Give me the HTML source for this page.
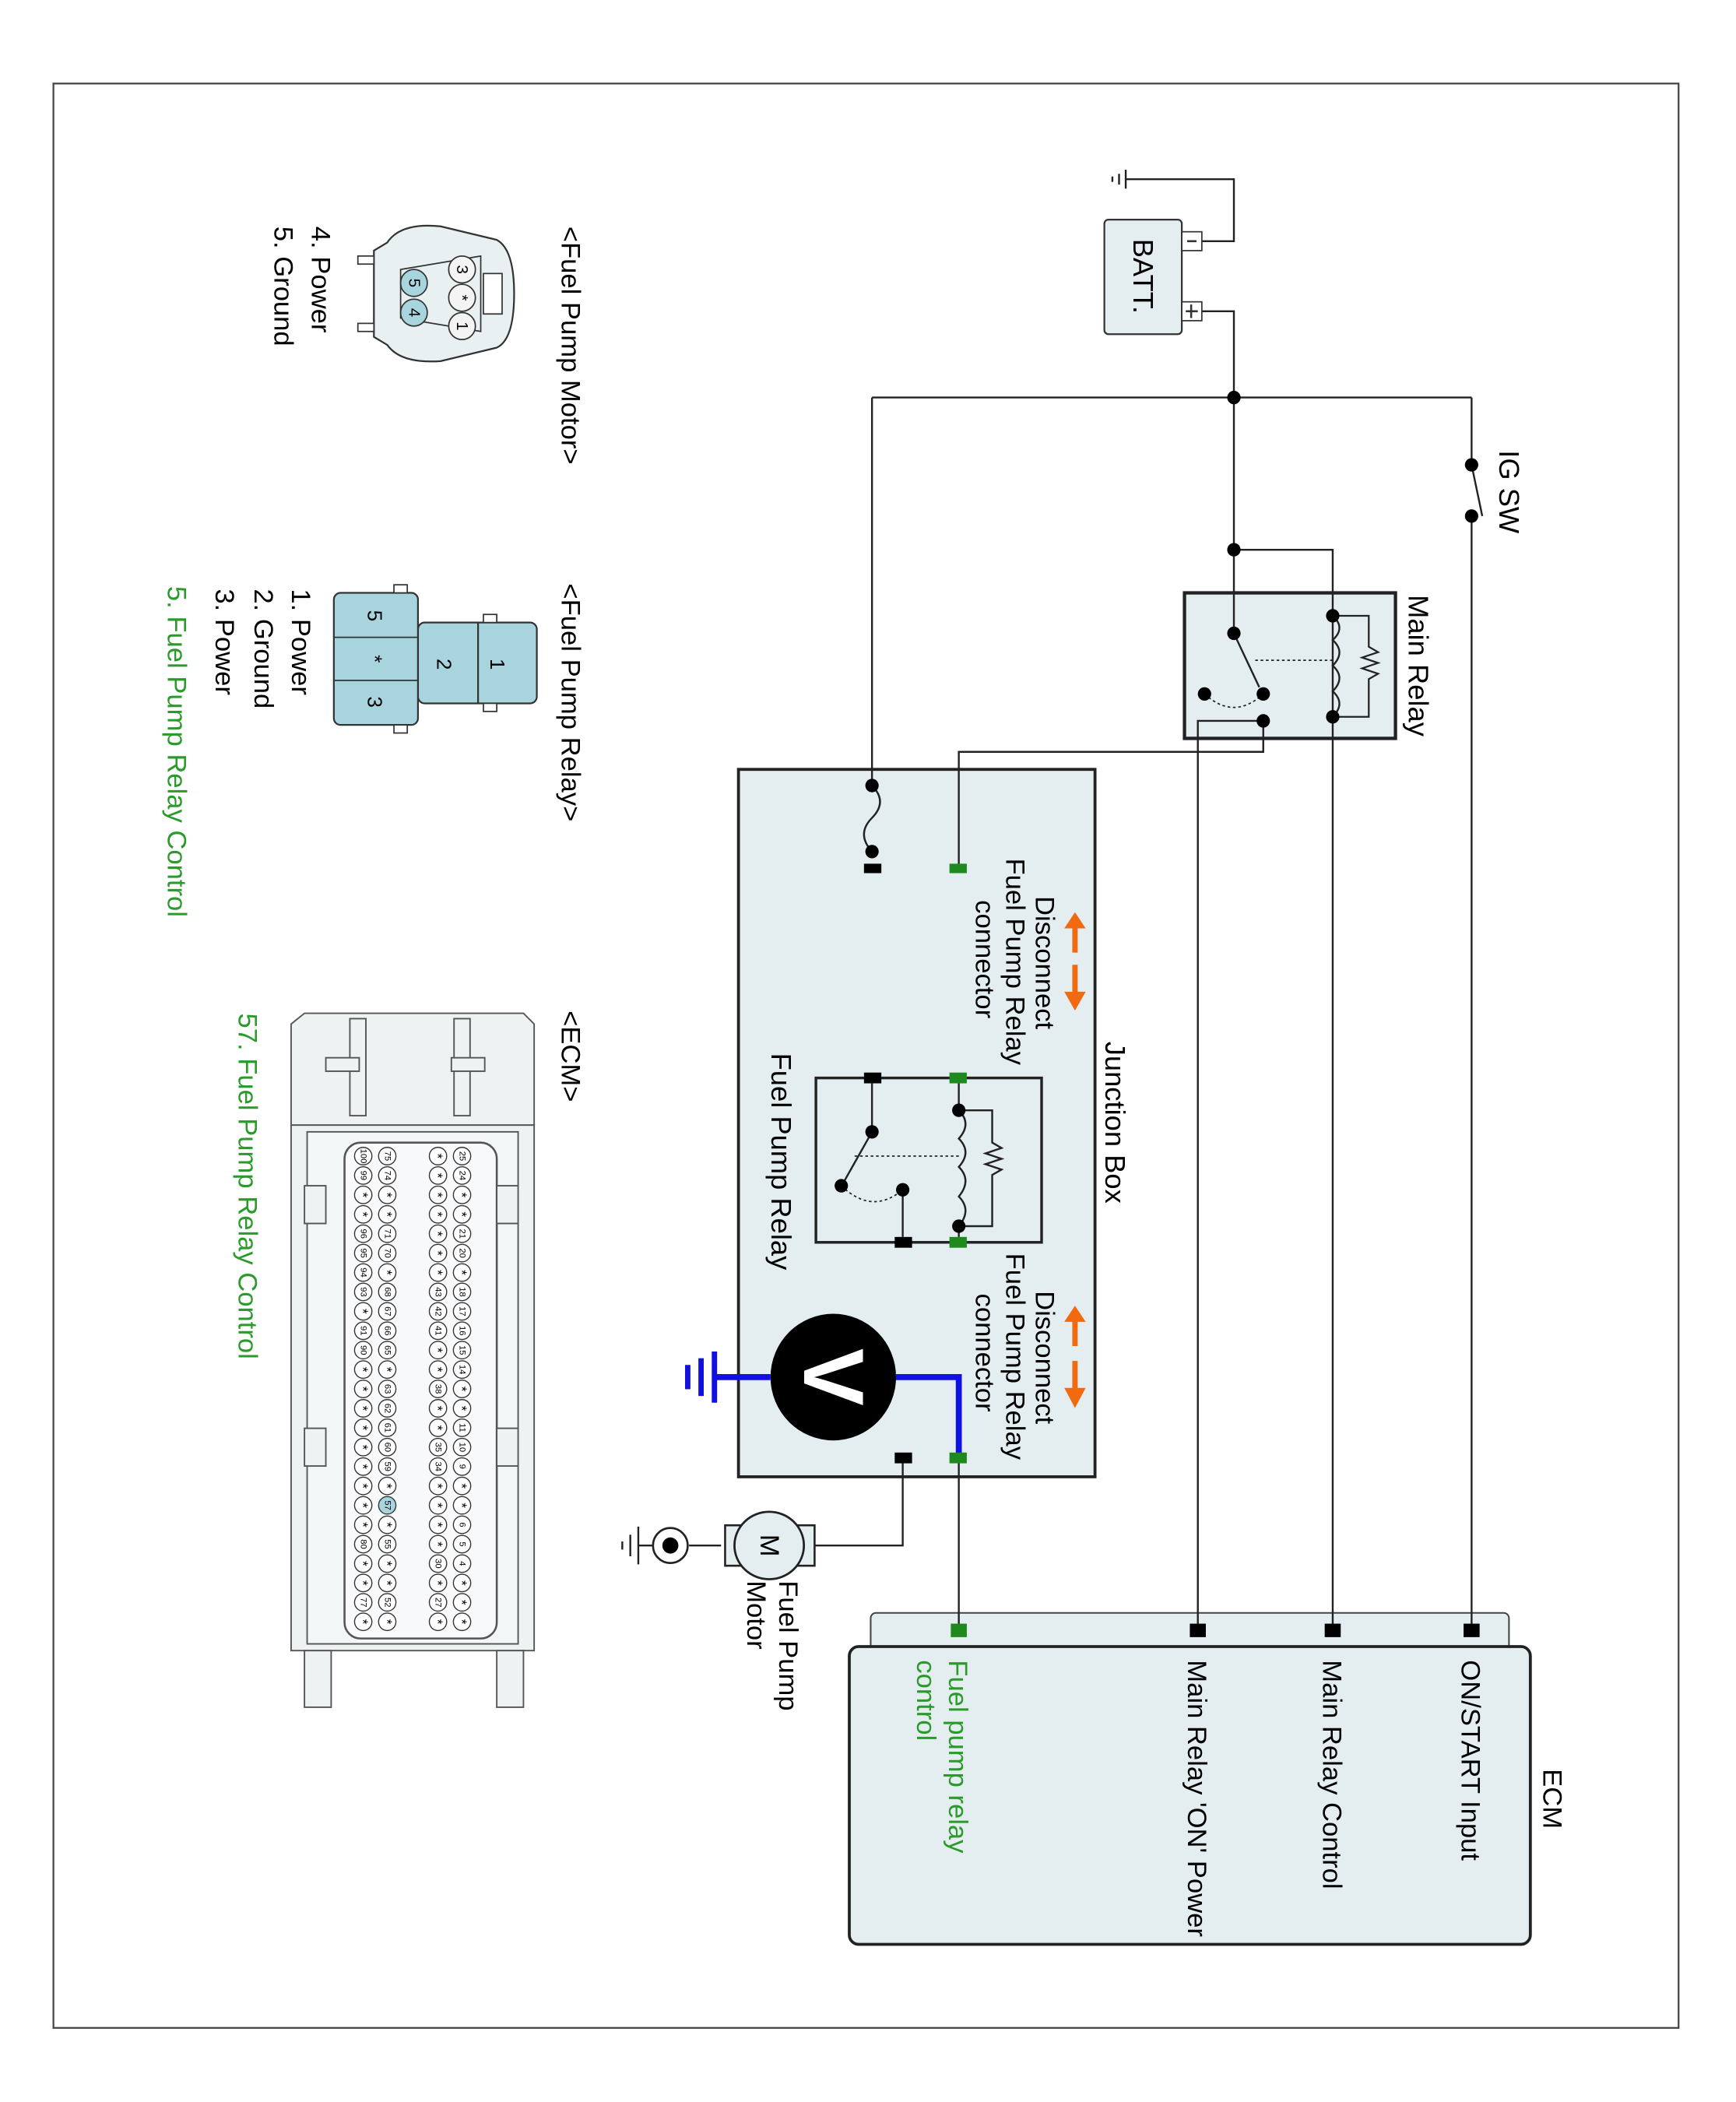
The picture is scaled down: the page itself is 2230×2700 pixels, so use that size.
<!DOCTYPE html>
<html><head><meta charset="utf-8"><style>
html,body{margin:0;padding:0;background:#fff;}
svg{display:block;}
text{font-family:"Liberation Sans",Arial,sans-serif;}
</style></head><body>
<svg id="s" width="2230" height="2700" viewBox="0 0 1300 1560" preserveAspectRatio="none" xmlns="http://www.w3.org/2000/svg">
<rect x="40" y="62" width="1217" height="1443" fill="#fff" stroke="#444" stroke-width="1.3"/>

<!-- boxes drawn first -->
<rect x="553" y="571" width="267" height="525" fill="#e4eef0" stroke="#222" stroke-width="2.2"/>
<rect x="887" y="440" width="158" height="108" fill="#e4eef0" stroke="#222" stroke-width="2.5"/>
<rect x="652" y="1197" width="478" height="40" rx="4" fill="#e4eef0" stroke="#444" stroke-width="1.2"/>
<rect x="636" y="1222" width="510" height="221" rx="7" fill="#e4eef0" stroke="#222" stroke-width="2.2"/>

<!-- wires -->
<g fill="none" stroke="#222" stroke-width="1.4">
<polyline points="900,179 924,179 924,133 843,133"/>
<line x1="843" y1="126" x2="843" y2="140"/><line x1="838" y1="129" x2="838" y2="137"/><line x1="833" y1="131" x2="833" y2="135"/>
<polyline points="900,231 924,231 924,470"/>
<line x1="653" y1="295" x2="1102" y2="295"/>
<line x1="653" y1="295" x2="653" y2="583"/>
<line x1="1102" y1="295" x2="1102" y2="345"/>
<line x1="1102" y1="345" x2="1110" y2="383"/>
<line x1="1102" y1="383" x2="1102" y2="1210"/>
<polyline points="924,408 998,408 998,1210"/>
<polyline points="946,535 897,535 897,1210"/>
<polyline points="946,535 946,558 718,558 718,645"/>
<polyline points="676,1082 676,1147 610,1147"/>
<line x1="540" y1="1147" x2="516" y2="1147"/>
<line x1="718" y1="1082" x2="718" y2="1210"/>
</g>

<!-- battery -->
<rect x="827" y="163" width="58" height="85" rx="3" fill="#e4eef0" stroke="#333" stroke-width="1.3"/>
<rect x="885" y="172" width="15" height="14" fill="#fff" stroke="#333"/>
<line x1="889" y1="179" x2="896" y2="179" stroke="#333" stroke-width="1.5"/>
<rect x="885" y="224" width="15" height="14" fill="#fff" stroke="#333"/>
<line x1="888" y1="231" x2="897" y2="231" stroke="#333" stroke-width="1.5"/><line x1="892" y1="226" x2="892" y2="236" stroke="#333" stroke-width="1.5"/>
<text transform="translate(856,205) rotate(90)" font-size="21" text-anchor="middle" dominant-baseline="central">BATT.</text>

<text transform="translate(1130,365) rotate(90)" font-size="21" text-anchor="middle" dominant-baseline="central">IG SW</text>

<!-- main relay -->
<text transform="translate(1062,494) rotate(90)" font-size="21" text-anchor="middle" dominant-baseline="central">Main Relay</text>
<path d="M998,457 q10,9 0,18 q10,9 0,19 q10,9 0,19 q10,9 0,19" fill="none" stroke="#222" stroke-width="1.4"/>
<polyline points="998,457 1025,457 1025,480 1032,484 1020,488 1032,492 1020,496 1032,500 1025,504 1025,532 998,532" fill="none" stroke="#222" stroke-width="1.3"/>
<line x1="924" y1="470" x2="943" y2="510" stroke="#222" stroke-width="1.4"/>
<line x1="940" y1="490" x2="998" y2="490" stroke="#222" stroke-dasharray="2,2"/>
<path d="M902,515 q22,20 44,0" fill="none" stroke="#222" stroke-dasharray="2,2"/>
<g fill="#000">
<circle cx="924" cy="295" r="5"/><circle cx="924" cy="408" r="5"/><circle cx="924" cy="470" r="5"/>
<circle cx="946" cy="515" r="5"/><circle cx="902" cy="515" r="5"/><circle cx="946" cy="535" r="5"/>
<circle cx="998" cy="457" r="5"/><circle cx="998" cy="532" r="5"/>
<circle cx="1102" cy="345" r="5"/><circle cx="1102" cy="383" r="5"/>
</g>

<!-- junction box contents -->
<text transform="translate(835,833) rotate(90)" font-size="21" text-anchor="middle" dominant-baseline="central">Junction Box</text>
<path d="M653,583 q12,12 0,24 q-12,12 0,25" fill="none" stroke="#222" stroke-width="1.4"/>
<circle cx="653" cy="583" r="5"/><circle cx="653" cy="632" r="5"/>
<rect x="647" y="641" width="13" height="7" fill="#000"/>
<rect x="711" y="641" width="13" height="7" fill="#1e8a1e"/>

<g font-size="20" text-anchor="start" dominant-baseline="central">
<text transform="translate(782,665) rotate(90)">Disconnect</text>
<text transform="translate(760,637) rotate(90)">Fuel Pump Relay</text>
<text transform="translate(737,668) rotate(90)">connector</text>
<text transform="translate(782,958) rotate(90)">Disconnect</text>
<text transform="translate(760,930) rotate(90)">Fuel Pump Relay</text>
<text transform="translate(737,960) rotate(90)">connector</text>
</g>
<g fill="#f26a10" stroke="#f26a10">
<line x1="805" y1="686" x2="805" y2="707" stroke-width="4"/><polygon points="797,689 813,689 805,677" stroke="none"/>
<line x1="805" y1="716" x2="805" y2="738" stroke-width="4"/><polygon points="797,736 813,736 805,750" stroke="none"/>
<line x1="805" y1="978" x2="805" y2="999" stroke-width="4"/><polygon points="797,981 813,981 805,969" stroke="none"/>
<line x1="805" y1="1010" x2="805" y2="1032" stroke-width="4"/><polygon points="797,1030 813,1030 805,1045" stroke="none"/>
</g>

<!-- fuel pump relay -->
<rect x="611" y="800" width="169" height="122" fill="none" stroke="#222" stroke-width="2"/>
<rect x="711" y="796" width="13" height="8" fill="#1e8a1e"/><rect x="711" y="918" width="13" height="8" fill="#1e8a1e"/>
<rect x="647" y="796" width="13" height="8" fill="#000"/><rect x="670" y="918" width="13" height="8" fill="#000"/>
<g fill="none" stroke="#222" stroke-width="1.4">
<line x1="718" y1="804" x2="718" y2="824"/><line x1="718" y1="910" x2="718" y2="918"/>
<path d="M718,824 q10,10 0,21 q10,10 0,21 q10,10 0,22 q10,10 0,22"/>
<polyline points="718,824 743,824 743,848 750,852 738,856 750,860 738,864 750,868 743,872 743,910 718,910"/>
<line x1="653" y1="804" x2="653" y2="840"/><line x1="653" y1="840" x2="632" y2="877"/>
<line x1="676" y1="883" x2="676" y2="918"/>
</g>
<line x1="640" y1="858" x2="718" y2="858" stroke="#222" stroke-dasharray="2,2"/>
<path d="M630,880 q23,22 46,3" fill="none" stroke="#222" stroke-dasharray="2,2"/>
<circle cx="718" cy="824" r="5"/><circle cx="718" cy="910" r="5"/><circle cx="653" cy="840" r="5"/><circle cx="630" cy="880" r="5"/><circle cx="676" cy="883" r="5"/>
<text transform="translate(585,862) rotate(90)" font-size="21" text-anchor="middle" dominant-baseline="central">Fuel Pump Relay</text>

<!-- voltmeter -->
<polyline points="671,1022 718,1022 718,1082" fill="none" stroke="#1010e0" stroke-width="4.5"/>
<line x1="577" y1="1022" x2="535" y2="1022" stroke="#1010e0" stroke-width="4.5"/>
<line x1="535" y1="1003" x2="535" y2="1041" stroke="#1010e0" stroke-width="4"/>
<line x1="525" y1="1008" x2="525" y2="1036" stroke="#1010e0" stroke-width="4"/>
<line x1="515" y1="1013" x2="515" y2="1031" stroke="#1010e0" stroke-width="4"/>
<circle cx="624" cy="1022" r="47" fill="#000"/>
<text transform="translate(624,1022) rotate(90)" font-size="64" font-weight="bold" fill="#fff" text-anchor="middle" dominant-baseline="central">V</text>
<rect x="711" y="1078" width="13" height="8" fill="#1e8a1e"/><rect x="670" y="1078" width="13" height="8" fill="#000"/>

<!-- motor -->
<rect x="543" y="1132" width="67" height="30" fill="#e4eef0" stroke="#222" stroke-width="1.5"/>
<ellipse cx="576" cy="1147" rx="26" ry="25" fill="#e4eef0" stroke="#222" stroke-width="1.6"/>
<text transform="translate(576,1147) rotate(90)" font-size="20" text-anchor="middle" dominant-baseline="central">M</text>
<circle cx="502" cy="1147" r="13" fill="#fff" stroke="#222" stroke-width="1.5"/><circle cx="502" cy="1147" r="6" fill="#000"/>
<line x1="489" y1="1147" x2="478" y2="1147" stroke="#222" stroke-width="1.4"/>
<line x1="478" y1="1133" x2="478" y2="1161" stroke="#222" stroke-width="1.4"/><line x1="472" y1="1139" x2="472" y2="1155" stroke="#222" stroke-width="1.4"/><line x1="466" y1="1144" x2="466" y2="1150" stroke="#222" stroke-width="1.4"/>
<text transform="translate(590,1173) rotate(90)" font-size="20" dominant-baseline="central">Fuel Pump</text>
<text transform="translate(566,1173) rotate(90)" font-size="20" dominant-baseline="central">Motor</text>

<!-- ECM -->
<rect x="1096" y="1205" width="12" height="10" fill="#000"/><rect x="992" y="1205" width="12" height="10" fill="#000"/><rect x="891" y="1205" width="12" height="10" fill="#000"/><rect x="712" y="1205" width="12" height="10" fill="#1e8a1e"/>
<g font-size="20" dominant-baseline="central">
<text transform="translate(1162,1335) rotate(90)" text-anchor="middle">ECM</text>
<text transform="translate(1101,1232) rotate(90)">ON/START Input</text>
<text transform="translate(997,1232) rotate(90)">Main Relay Control</text>
<text transform="translate(896,1232) rotate(90)">Main Relay 'ON' Power</text>
<text transform="translate(717,1232) rotate(90)" fill="#2a9a2a">Fuel pump relay</text>
<text transform="translate(693,1232) rotate(90)" fill="#2a9a2a">control</text>
</g>

<!-- left legends -->
<g font-size="20" dominant-baseline="central">
<text transform="translate(427,168) rotate(90)">&lt;Fuel Pump Motor&gt;</text>
<text transform="translate(240,168) rotate(90)">4. Power</text>
<text transform="translate(212,168) rotate(90)">5. Ground</text>
<text transform="translate(427,433) rotate(90)">&lt;Fuel Pump Relay&gt;</text>
<text transform="translate(225,437) rotate(90)">1. Power</text>
<text transform="translate(197,437) rotate(90)">2. Ground</text>
<text transform="translate(168,437) rotate(90)">3. Power</text>
<text transform="translate(132,435) rotate(90)" fill="#2a9a2a">5. Fuel Pump Relay Control</text>
<text transform="translate(427,750) rotate(90)">&lt;ECM&gt;</text>
<text transform="translate(185,752) rotate(90)" fill="#2a9a2a">57. Fuel Pump Relay Control</text>
</g>

<!-- motor connector -->
<path d="M290,180 Q300,165 330,168 L372,178 Q385,185 385,218 Q385,252 372,258 L330,268 Q300,270 290,256 L280,250 L280,186 Z" fill="#e8f0f2" stroke="#333" stroke-width="1.3"/>
<rect x="268" y="190" width="12" height="6" fill="#fff" stroke="#333"/><rect x="268" y="240" width="12" height="6" fill="#fff" stroke="#333"/>
<rect x="362" y="203" width="14" height="30" fill="#fff" stroke="#333"/>
<path d="M360,190 L300,200 L300,236 L360,246 Z" fill="none" stroke="#333"/>
<circle cx="346" cy="200" r="10" fill="#f4f4f4" stroke="#333"/><circle cx="346" cy="221" r="10" fill="#f4f4f4" stroke="#333"/><circle cx="346" cy="242" r="10" fill="#f4f4f4" stroke="#333"/>
<circle cx="310" cy="210" r="10" fill="#a8d4de" stroke="#333"/><circle cx="310" cy="232" r="10" fill="#a8d4de" stroke="#333"/>
<g font-size="12" text-anchor="middle" dominant-baseline="central">
<text transform="translate(346,200) rotate(90)">3</text><text transform="translate(346,221) rotate(90)">*</text><text transform="translate(346,242) rotate(90)">1</text>
<text transform="translate(310,210) rotate(90)">5</text><text transform="translate(310,232) rotate(90)">4</text>
</g>

<!-- relay connector -->
<rect x="313" y="462" width="89" height="60" rx="5" fill="#a8d4de" stroke="#333" stroke-width="1.3"/>
<line x1="358" y1="462" x2="358" y2="522" stroke="#333" stroke-width="1.3"/>
<rect x="250" y="440" width="63" height="98" rx="5" fill="#a8d4de" stroke="#333" stroke-width="1.3"/>
<line x1="250" y1="473" x2="313" y2="473" stroke="#333"/><line x1="250" y1="505" x2="313" y2="505" stroke="#333"/>
<rect x="295" y="434" width="10" height="6" fill="#fff" stroke="#333"/><rect x="295" y="538" width="10" height="6" fill="#fff" stroke="#333"/>
<rect x="362" y="456" width="10" height="6" fill="#fff" stroke="#333"/><rect x="362" y="522" width="10" height="6" fill="#fff" stroke="#333"/>
<g font-size="15" text-anchor="middle" dominant-baseline="central">
<text transform="translate(372,493) rotate(90)">1</text><text transform="translate(332,493) rotate(90)">2</text>
<text transform="translate(280,457) rotate(90)">5</text><text transform="translate(280,489) rotate(90)">*</text><text transform="translate(280,521) rotate(90)">3</text>
</g>

<!-- ECM connector -->
<g fill="#eef2f3" stroke="#555" stroke-width="1.1">
<path d="M218,760 L228,752 L392,752 L400,760 L400,835 L218,835 Z"/>
<rect x="218" y="835" width="182" height="390"/>
<rect x="230" y="840" width="158" height="380" fill="#f3f6f7"/>
<rect x="258" y="848" width="114" height="368" rx="12" fill="#f7f9fa" stroke-width="1.5"/>
<rect x="262" y="756" width="12" height="72"/><rect x="340" y="756" width="12" height="72"/>
<rect x="244" y="785" width="25" height="10"/><rect x="338" y="785" width="25" height="10"/>
<rect x="228" y="1225" width="20" height="42"/><rect x="372" y="1225" width="20" height="42"/>
<rect x="228" y="880" width="16" height="28"/><rect x="372" y="880" width="16" height="28"/>
<rect x="228" y="1060" width="16" height="28"/><rect x="372" y="1060" width="16" height="28"/>
</g>
<g id="pins" font-size="6.5" text-anchor="middle" dominant-baseline="central"></g>
</svg>
<script>
var rows=[[346,"25,24,*,*,21,20,*,18,17,16,15,14,*,*,11,10,9,*,*,6,5,4,*,*,*"],
[328,"*,*,*,*,*,*,*,43,42,41,*,*,38,*,*,35,34,*,*,*,*,30,*,27,*"],
[290,"75,74,*,*,71,70,*,68,67,66,65,*,63,62,61,60,59,*,57,*,55,*,*,52,*"],
[272,"100,99,*,*,96,95,94,93,*,91,90,*,*,*,*,*,*,*,*,*,80,*,*,77,*"]];
var g=document.getElementById("pins"),h="";
rows.forEach(function(r){r[1].split(",").forEach(function(l,i){var y=858+i*14.4;
h+='<circle cx="'+r[0]+'" cy="'+y+'" r="6.5" fill="'+(l=="57"?"#a8d4de":"#fff")+'" stroke="#333" stroke-width="0.8"/>';
h+='<text transform="translate('+r[0]+','+y+') rotate(90)" font-size="'+(l=="*"?10:6.5)+'">'+l+'</text>';});});
g.innerHTML=h;
</script>
</body></html>
